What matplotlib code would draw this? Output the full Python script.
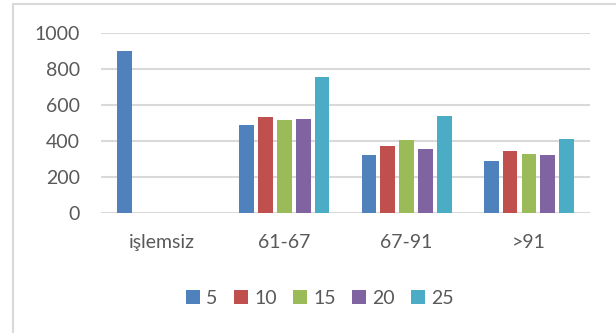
import numpy as np
import matplotlib
matplotlib.use("Agg")
import matplotlib.pyplot as plt
from matplotlib.patches import Rectangle

categories = ["işlemsiz", "61-67", "67-91", ">91"]
series = ["5", "10", "15", "20", "25"]
colors = ["#4F81BD", "#C0504D", "#9BBB59", "#8064A2", "#4BACC6"]

s5 = [900, 490, 320, 290]
s10 = [0, 535, 370, 345]
s15 = [0, 515, 405, 330]
s20 = [0, 520, 355, 320]
s25 = [0, 755, 540, 410]
values = [s5, s10, s15, s20, s25]

plt.rcParams['font.family'] = ['Lato', 'DejaVu Sans']
txt = '#595959'

fig = plt.figure(figsize=(6.16, 3.33), dpi=100)
ax = fig.add_axes([101/616, 1 - 213/333, 489/616, 180/333])

# outer chart frame (only left/top edges fall inside the image)
fig.patches.append(Rectangle((12.5/616, -0.1), 1.2, 1 - 3.5/333 + 0.1,
                             transform=fig.transFigure, fill=False,
                             edgecolor='#D9D9D9', lw=1.5))

x = np.arange(len(categories))
pitch = 0.154
for i, (vals, c, name) in enumerate(zip(values, colors, series)):
    ax.bar(x + (i - 2) * pitch, vals, width=0.12, color=c, label=name, zorder=3)

ax.set_xlim(-0.5, 3.5)
ax.set_ylim(0, 1000)
ax.set_yticks(range(0, 1001, 200))
ax.set_xticks(x)
ax.set_xticklabels(categories)
ax.grid(axis='y', color='#D9D9D9', lw=1.5, zorder=0)
for sp in ax.spines.values():
    sp.set_visible(False)
ax.tick_params(length=0, labelsize=14, colors=txt)
ax.tick_params(axis='y', pad=15)
ax.tick_params(axis='x', pad=15)

ax.legend(loc='center', bbox_to_anchor=(320/616, 1 - 298/333),
          bbox_transform=fig.transFigure, ncol=5, frameon=False,
          fontsize=14, labelcolor=txt, handlelength=0.72, handleheight=0.72,
          handletextpad=0.3, columnspacing=0.85, borderpad=0)

fig.savefig('out.png', dpi=100)
